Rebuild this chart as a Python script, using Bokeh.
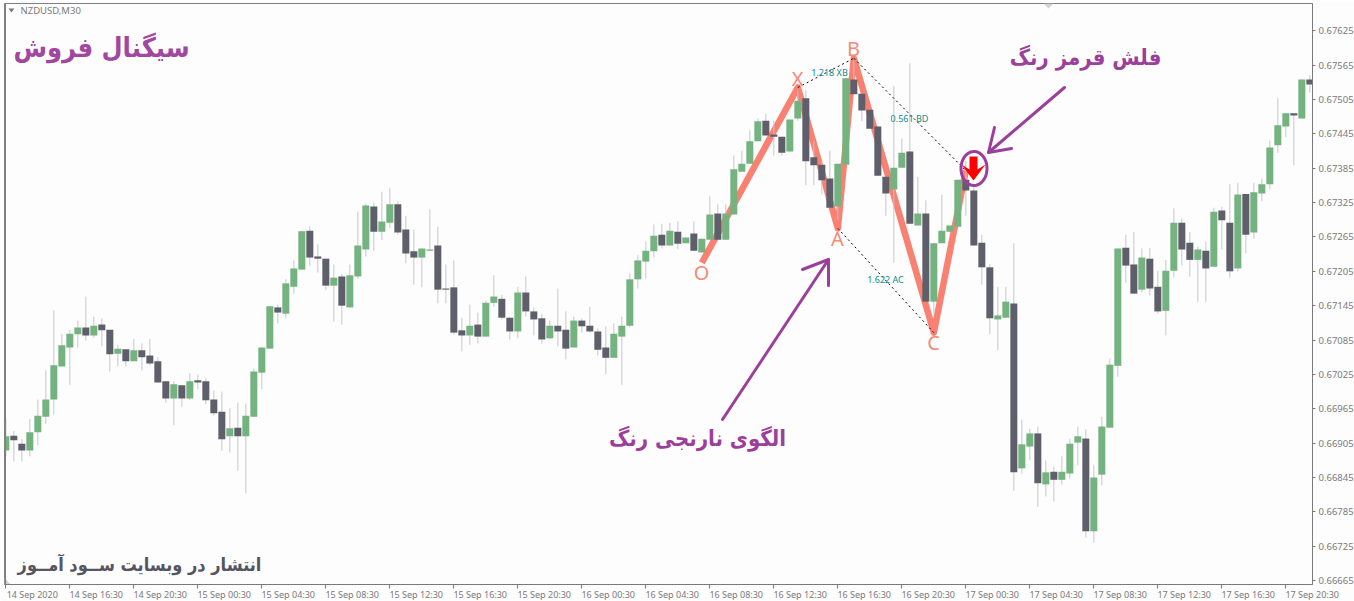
from bokeh.plotting import figure
from bokeh.models import FixedTicker, Range1d, Label, BoxAnnotation
from bokeh.embed import file_html
from bokeh.resources import INLINE
import numpy as np

# Prices in points (1e-5)
opens = [66892,66918,66904,66892,66924,66951,66981,67039,67072,67095,
67107,67093,67112,67103,67061,67069,67048,67067,67058,67048,
67013,66983,67006,66983,67015,67013,66981,66960,66917,66932,
66917,66951,67028,67070,67142,67131,67178,67208,67276,67231,
67227,67180,67196,67142,67196,67243,67318,67274,67290,67322,
67278,67240,67229,67241,67250,67175,67177,67102,67093,67112,
67091,67150,67157,67124,67100,67168,67135,67123,67088,67110,
67103,67072,67119,67110,67100,67072,67054,67091,67110,67191,
67222,67240,67269,67250,67274,67254,67271,67238,67260,67306,
67260,67304,67379,67393,67432,67468,67444,67440,67414,67472,
67507,67404,67391,67367,67318,67391,67540,67515,67487,67458,
67370,67348,67386,67414,67285,67306,67152,67254,67274,67283,
67365,67346,67255,67212,67121,67124,67149,66861,66899,66922,
66833,66855,66841,66852,66906,66913,66751,66850,66932,67040,
67246,67217,67173,67227,67178,67136,67206,67290,67255,67225,
67241,67213,67311,67290,67210,67340,67273,67341,67357,67425,
67458,67481,67472,67540]
closes = [66917,66910,66892,66924,66953,66981,67041,67076,67096,67107,
67093,67110,67102,67060,67070,67048,67067,67055,67044,67011,
66983,67008,66983,67013,67011,66980,66957,66912,66931,66917,
66953,67030,67072,67144,67133,67184,67210,67275,67229,67227,
67180,67194,67145,67198,67250,67320,67274,67292,67322,67273,
67236,67229,67245,67243,67173,67173,67098,67093,67110,67091,
67150,67161,67124,67100,67168,67135,67121,67086,67110,67100,
67070,67119,67109,67100,67068,67054,67096,67110,67191,67224,
67241,67267,67250,67276,67253,67264,67241,67262,67304,67260,
67306,67383,67393,67432,67467,67442,67440,67412,67470,67503,
67397,67390,67364,67316,67393,67542,67514,67486,67454,67372,
67341,67386,67412,67288,67306,67152,67254,67276,67285,67365,
67346,67250,67212,67123,67128,67152,66854,66903,66922,66835,
66854,66841,66855,66904,66917,66751,66845,66934,67042,67245,
67215,67166,67229,67175,67135,67206,67290,67243,67225,67243,
67210,67309,67294,67205,67339,67269,67343,67357,67421,67460,
67481,67477,67540,67531]
highs = [66947,66926,66912,66947,66981,67032,67137,67096,67103,67119,
67161,67126,67123,67103,67076,67069,67087,67079,67087,67055,
67013,67013,67006,67027,67025,67018,66997,66995,66966,66976,
66974,67035,67072,67144,67147,67191,67224,67275,67283,67252,
67227,67217,67200,67217,67309,67323,67325,67344,67350,67327,
67302,67278,67245,67313,67283,67217,67224,67124,67147,67133,
67154,67198,67164,67124,67178,67196,67142,67131,67119,67175,
67135,67126,67123,67143,67105,67109,67114,67126,67201,67233,
67257,67287,67288,67290,67292,67264,67292,67262,67336,67322,
67322,67407,67416,67451,67472,67480,67468,67440,67470,67521,
67521,67433,67398,67416,67393,67542,67573,67515,67487,67458,
67370,67529,67437,67568,67370,67329,67254,67339,67285,67365,
67398,67355,67269,67217,67178,67178,67254,66946,66930,66934,
66875,66864,66882,66913,66934,66929,66866,66951,67053,67245,
67269,67274,67245,67246,67206,67225,67315,67297,67274,67248,
67257,67316,67318,67357,67360,67340,67360,67367,67433,67507,
67481,67481,67540,67547]
lows = [66882,66873,66873,66882,66901,66939,66955,67039,67007,67072,
67084,67089,67074,67030,67039,67039,67048,67032,67041,67011,
66976,66936,66969,66980,66999,66973,66953,66892,66889,66857,
66817,66951,66999,67070,67114,67123,67166,67208,67214,67203,
67172,67117,67112,67142,67192,67231,67241,67260,67281,67269,
67219,67182,67177,67241,67149,67149,67095,67065,67077,67079,
67091,67143,67121,67086,67088,67126,67093,67079,67086,67074,
67051,67072,67098,67098,67058,67025,67054,67007,67107,67175,
67192,67229,67245,67250,67243,67254,67241,67238,67260,67260,
67260,67304,67379,67393,67432,67442,67407,67407,67414,67468,
67355,67355,67339,67316,67294,67391,67514,67467,67454,67372,
67302,67220,67386,67288,67285,67152,67131,67254,67274,67283,
67302,67250,67182,67095,67067,67124,66822,66852,66875,66794,
66812,66803,66833,66843,66866,66740,66731,66831,66932,67021,
67185,67166,67168,67163,67131,67093,67194,67215,67196,67152,
67152,67213,67243,67194,67205,67236,67262,67327,67348,67412,
67439,67390,67472,67517]

price_ticks = [0.67625,0.67565,0.67505,0.67445,0.67385,0.67325,0.67265,0.67205,
               0.67145,0.67085,0.67025,0.66965,0.66905,0.66845,0.66785,0.66725,0.66665]
time_ticks = list(range(0, 161, 8))
time_labels = ["14 Sep 2020","14 Sep 16:30","14 Sep 20:30",
  "15 Sep 00:30","15 Sep 04:30","15 Sep 08:30","15 Sep 12:30","15 Sep 16:30","15 Sep 20:30",
  "16 Sep 00:30","16 Sep 04:30","16 Sep 08:30","16 Sep 12:30","16 Sep 16:30","16 Sep 20:30",
  "17 Sep 00:30","17 Sep 04:30","17 Sep 08:30","17 Sep 12:30","17 Sep 16:30","17 Sep 20:30"]

# Harmonic pattern pivots: bar index, price, name
pivot_bar = [87, 99, 104, 106, 116, 120]
pivot_price = [0.67220, 0.67526, 0.67280, 0.67577, 0.67098, 0.67381]
pivot_name = ["O", "X", "A", "B", "C", "D"]
ratio_text = ["1.218 XB", "0.561 BD", "1.622 AC"]

W, H = 1354, 601
FL, FR, FT, FB = 4, 1312, 3, 584
PX = 8.0                 # px per bar
PY = 1.746e-5            # price per px
x0 = (FL - 5.33) / PX
x1 = (FR - 5.33) / PX
y_at = lambda py: 0.67505 + (99 - py) * PY
x_at = lambda px: (px - 5.33) / PX

o = np.array(opens) / 1e5; c = np.array(closes) / 1e5
h = np.array(highs) / 1e5; l = np.array(lows) / 1e5
idx = np.arange(len(o))
up = c >= o

p = figure(frame_width=FR - FL, frame_height=FB - FT, output_backend="svg", toolbar_location=None,
           x_range=Range1d(x0, x1), y_range=Range1d(y_at(FB), y_at(FT)),
           min_border_left=FL, min_border_right=0, min_border_top=FT, min_border_bottom=0,
           background_fill_color="#FDFDFD", border_fill_color="#FDFDFD",
           x_axis_location="below", y_axis_location="right")
p.styles = {"position": "absolute", "left": "0px", "top": "0px"}
p.grid.visible = False
p.outline_line_color = "#808080"
p.outline_line_width = 1

GRAY = "#7A7A7A"
ax = p.yaxis[0]
ax.ticker = FixedTicker(ticks=price_ticks)
ax.major_label_overrides = {t: f"{t:.5f}" for t in price_ticks}
ax.major_label_text_font = "Noto Sans"
ax.major_label_text_font_size = "9.5px"
ax.major_label_text_color = GRAY
ax.major_tick_line_color = GRAY
ax.major_tick_in = 0
ax.major_tick_out = 3
ax.major_label_standoff = 3
ax.minor_tick_line_color = None
ax.axis_line_color = GRAY

# Labels start at their tick in the reference: major ticks carry the (centred)
# labels half a label to the right, minor ticks draw the tick marks.
LABEL_SHIFT = 3.3
bx = p.xaxis[0]
label_ticks = [t + LABEL_SHIFT for t in time_ticks]
bx.ticker = FixedTicker(ticks=label_ticks, minor_ticks=time_ticks)
bx.major_label_overrides = dict(zip(label_ticks, time_labels))
bx.major_label_text_font = "Noto Sans"
bx.major_label_text_font_size = "9px"
bx.major_label_text_color = GRAY
bx.major_tick_line_color = None
bx.major_tick_in = 0
bx.major_tick_out = 0
bx.major_label_standoff = -1
bx.minor_tick_line_color = GRAY
bx.minor_tick_in = 0
bx.minor_tick_out = 4
bx.axis_line_color = GRAY

# Pattern under the candles
p.line(pivot_bar, pivot_price, line_color="#FA8072", line_width=6.5, line_join="round")

# Candles
p.segment(idx, h, idx, l, line_color="#C6C6CE", line_width=1)
p.vbar(idx[up], 0.875, o[up], c[up], fill_color="#74B27F", line_color=None)
p.vbar(idx[~up], 0.875, c[~up], o[~up], fill_color="#5F5F6B", line_color=None)

# Dotted legs
for a, b in [(1, 3), (3, 5), (2, 4)]:
    p.line([pivot_bar[a], pivot_bar[b]], [pivot_price[a], pivot_price[b]],
           line_color="#000000", line_width=1, line_dash="2 3")

def label(px, py, text, size, color, bold=False, font="DejaVu Sans Condensed"):
    p.add_layout(Label(x=x_at(px), y=y_at(py), text=text, text_font=font,
                       text_font_size=f"{size}px", text_color=color,
                       text_font_style="bold" if bold else "normal",
                       text_align="center", text_baseline="middle"))

SAL = "#F58A78"
for px, py, i in [(701, 272, 0), (797, 78, 1), (837, 238, 2), (853, 48, 3), (933, 342, 4)]:
    label(px, py, pivot_name[i], 20, SAL, font="Noto Sans")
TEAL = "#0E8C8C"
label(829, 72, ratio_text[0], 9, TEAL, font="Noto Sans")
label(909, 118, ratio_text[1], 9, TEAL, font="Noto Sans")
label(885, 279, ratio_text[2], 9, TEAL, font="Noto Sans")

# Red signal arrow
ax_px = np.array([969, 977, 977, 985, 973, 961, 969])
ay_px = np.array([156, 156, 169, 164, 180, 164, 169])
p.patch(x_at(ax_px), y_at(ay_px), fill_color="#FF0000", line_color=None)

# Purple ring
PUR = "#9C3F9C"
tt = np.linspace(0, 2 * np.pi, 60)
p.line(x_at(973.5 + 13 * np.cos(tt)), y_at(168 + 17 * np.sin(tt)), line_color=PUR, line_width=3)

# Hand-drawn purple arrows
def stroke(xs, ys, w=3):
    p.line(x_at(np.array(xs)), y_at(np.array(ys)), line_color=PUR, line_width=w, line_cap="round", line_join="round")
stroke([722, 828], [419, 259])
stroke([802, 828, 828], [269, 259, 285])
stroke([1064, 988], [87, 152])
stroke([994, 988, 1011], [127, 152, 148])

label(101, 47, "سیگنال فروش", 27, "#A2479F", bold=True)
label(1085, 57, "فلش قرمز رنگ", 22, PUR, bold=True)
label(697, 438, "الگوی نارنجی رنگ", 22, PUR, bold=True)
label(139, 564, "انتشار در وبسایت ســود آمــوز", 18, "#555560", bold=True)

p.add_layout(Label(x=x_at(20), y=y_at(10), text="NZDUSD,M30", text_font="Noto Sans",
                   text_font_size="9.5px", text_color=GRAY, text_baseline="middle"))
p.patch(x_at(np.array([8, 14, 11])), y_at(np.array([8, 8, 12])), fill_color=GRAY, line_color=None)
# small chart-window marks
p.patch(x_at(np.array([1043, 1053, 1048])), y_at(np.array([3, 3, 8])), fill_color="#D4D4D4", line_color=None)
p.patch(x_at(np.array([4, 4, 10])), y_at(np.array([577, 584, 584])), fill_color="#D4D4D4", line_color=None)
# outer window edge
p.add_layout(BoxAnnotation(left=0, right=1.5, top=0, bottom=H, left_units="screen", right_units="screen",
                           top_units="screen", bottom_units="screen", fill_color="#808080", fill_alpha=1,
                           line_color=None))

open("out.html", "w").write(file_html(p, INLINE))
